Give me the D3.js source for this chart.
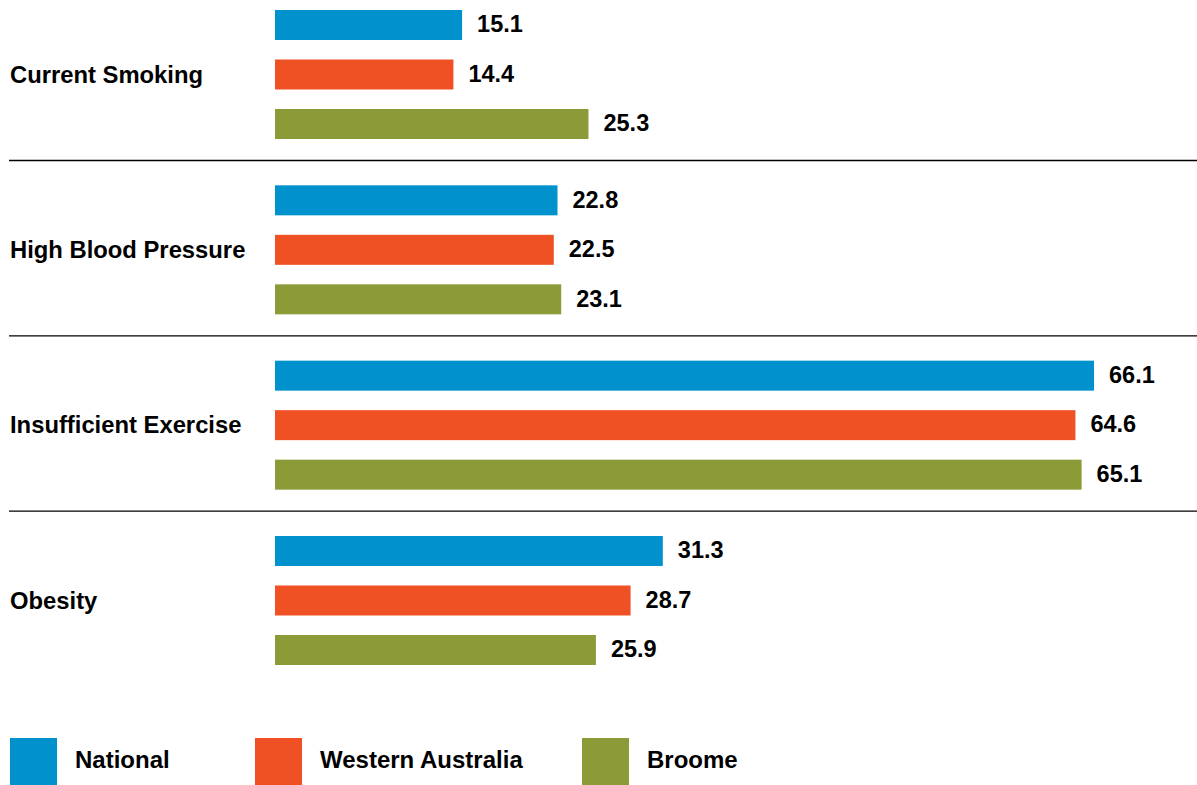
<!DOCTYPE html>
<html>
<head>
<meta charset="utf-8">
<script src="https://cdn.jsdelivr.net/npm/d3@7"></script>
<style>
  body { margin: 0; background: #fff; }
  text { font-family: "Liberation Sans", Arial, Helvetica, sans-serif; font-weight: bold; fill: #000; }
</style>
</head>
<body>
<script>
// risk factor prevalence, per cent
const categories = ["Current Smoking", "High Blood Pressure", "Insufficient Exercise", "Obesity"];
const series = ["National", "Western Australia", "Broome"];
const national = [15.1, 22.8, 66.1, 31.3];
const westernAustralia = [14.4, 22.5, 64.6, 28.7];
const broome = [25.3, 23.1, 65.1, 25.9];
const colors = ["#0192cd", "#f05124", "#8c9b37"];

const values = [national, westernAustralia, broome];

const width = 1197, height = 785;
const legendX = [10, 255, 582];

const svg = d3.select("body").append("svg")
  .attr("width", width)
  .attr("height", height);

const x = d3.scaleLinear()
  .domain([0, 66.1])
  .range([275, 1094]);

const yGroup = d3.scaleBand()
  .domain(categories)
  .range([10, 10 + 4 * 175.33])
  .padding(0);

const ySeries = d3.scaleBand()
  .domain(series)
  .range([0, 129])
  .paddingInner(0.394)
  .paddingOuter(0);

const rows = [];
categories.forEach((c, i) => {
  series.forEach((s, j) => {
    rows.push({ cat: c, ser: s, value: values[j][i], color: colors[j] });
  });
});

// separators between groups
svg.selectAll("line.sep")
  .data(categories.slice(0, -1))
  .join("line")
    .attr("class", "sep")
    .attr("x1", 9).attr("x2", width)
    .attr("y1", d => yGroup(d) + 150.5)
    .attr("y2", d => yGroup(d) + 150.5)
    .attr("stroke", "#000")
    .attr("stroke-width", 1.3);

// category labels, centred on the middle bar
svg.selectAll("text.cat")
  .data(categories)
  .join("text")
    .attr("class", "cat")
    .attr("x", 10)
    .attr("y", d => yGroup(d) + ySeries(series[1]) + ySeries.bandwidth() / 2)
    .attr("dy", "0.35em")
    .attr("font-size", 23.8)
    .text(d => d);

svg.selectAll("rect.bar")
  .data(rows)
  .join("rect")
    .attr("class", "bar")
    .attr("x", x(0))
    .attr("y", d => yGroup(d.cat) + ySeries(d.ser))
    .attr("width", d => x(d.value) - x(0))
    .attr("height", ySeries.bandwidth())
    .attr("fill", d => d.color);

svg.selectAll("text.val")
  .data(rows)
  .join("text")
    .attr("class", "val")
    .attr("x", d => x(d.value) + 15)
    .attr("y", d => yGroup(d.cat) + ySeries(d.ser) + ySeries.bandwidth() / 2 - 1)
    .attr("dy", "0.35em")
    .attr("font-size", 23.5)
    .text(d => d.value.toFixed(1));

// legend
const legend = svg.selectAll("g.legend")
  .data(series)
  .join("g")
    .attr("class", "legend")
    .attr("transform", (d, i) => `translate(${legendX[i]},738)`);

legend.append("rect")
  .attr("width", 47)
  .attr("height", 47)
  .attr("fill", (d, i) => colors[i]);

legend.append("text")
  .attr("x", 65)
  .attr("y", 22)
  .attr("dy", "0.35em")
  .attr("font-size", 24)
  .text(d => d);
</script>
</body>
</html>
